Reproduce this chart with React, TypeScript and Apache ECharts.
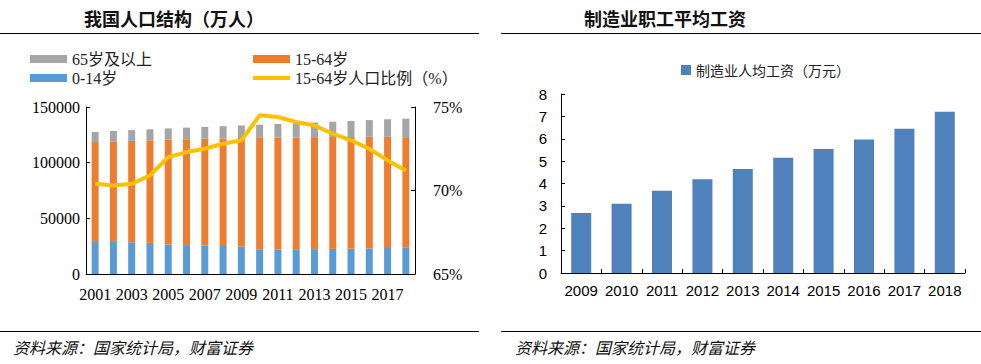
import React, { useEffect, useRef } from "react";
import * as echarts from "echarts";

const popYears = ["2001", "2002", "2003", "2004", "2005", "2006", "2007", "2008", "2009", "2010", "2011", "2012", "2013", "2014", "2015", "2016", "2017", "2018"];
const age0to14 = [28716, 28774, 28559, 27947, 26504, 25961, 25660, 25166, 24659, 22259, 22164, 22287, 22329, 22558, 22715, 23008, 23348, 23523];
const age15to64 = [89849, 90302, 90976, 92184, 94197, 95068, 95833, 96680, 97484, 99938, 100283, 100403, 100582, 100469, 100361, 100260, 99829, 99357];
const age65plus = [9062, 9377, 9692, 9857, 10055, 10419, 10636, 10956, 11307, 11894, 12288, 12714, 13161, 13755, 14386, 15003, 15831, 16658];
const workingRatio = [70.4, 70.3, 70.4, 70.9, 72.0, 72.3, 72.5, 72.8, 73.0, 74.5, 74.4, 74.1, 73.9, 73.4, 73.0, 72.5, 71.8, 71.2];

const wageYears = ["2009", "2010", "2011", "2012", "2013", "2014", "2015", "2016", "2017", "2018"];
const wageValues = [2.68, 3.1, 3.68, 4.19, 4.65, 5.15, 5.54, 5.97, 6.45, 7.21];

const popTicksLeft = { min: 0, max: 150000, interval: 50000 };
const popTicksRight = { min: 65, max: 75, interval: 5 };
const wageTicks = { min: 0, max: 8, interval: 1 };

const leftTitle = "我国人口结构（万人）";
const rightTitle = "制造业职工平均工资";
const sourceText = "资料来源：国家统计局，财富证券";

const SERIF = "'Liberation Serif', 'Noto Sans CJK SC', serif";
const SANS = "'Liberation Sans', 'Noto Sans CJK SC', sans-serif";
const CJK = "'Noto Sans CJK SC', sans-serif";

export default function App() {
  const ref = useRef<HTMLDivElement>(null);
  useEffect(() => {
    if (!ref.current) return;
    const chart = echarts.init(ref.current, null, { renderer: "svg" });
    const axisLine = { show: true, lineStyle: { color: "#000", width: 1 } };
    const tick = { show: true, inside: true, length: 4, lineStyle: { color: "#000" } };
    chart.setOption({
      animation: false,
      backgroundColor: "#fff",
      legend: [
        {
          left: 25, top: 46, orient: "vertical", itemWidth: 37, itemHeight: 8, itemGap: 3,
          textStyle: { fontFamily: SERIF, fontSize: 16, color: "#222", lineHeight: 16 },
          data: [{ name: "65岁及以上", icon: "rect" }, { name: "0-14岁", icon: "rect" }],
        },
        {
          left: 248, top: 46, orient: "vertical", itemWidth: 37, itemHeight: 8, itemGap: 3,
          textStyle: { fontFamily: SERIF, fontSize: 16, color: "#222", lineHeight: 16 },
          data: [
            { name: "15-64岁", icon: "rect" },
            { name: "15-64岁人口比例（%）", icon: "path://M0 0H37V4H0Z", itemStyle: { color: "#FFC000" } },
          ],
        },
        {
          left: 676, top: 58, itemWidth: 10, itemHeight: 10,
          textStyle: { fontFamily: CJK, fontSize: 14, color: "#222" },
          data: [{ name: "制造业人均工资（万元）", icon: "rect" }],
        },
      ],
      grid: [
        { left: 86, top: 107, width: 329, height: 167 },
        { left: 561, top: 94, width: 404, height: 179 },
      ],
      xAxis: [
        {
          type: "category", gridIndex: 0, data: popYears, axisLine,
          axisTick: { show: false },
          axisLabel: { interval: 1, margin: 12, fontFamily: SERIF, fontSize: 16, color: "#000" },
        },
        {
          type: "category", gridIndex: 1, data: wageYears, axisLine,
          axisTick: { ...tick, interval: 0 },
          axisLabel: { interval: 0, margin: 10, fontFamily: SANS, fontSize: 15, color: "#000" },
        },
      ],
      yAxis: [
        {
          type: "value", gridIndex: 0, ...popTicksLeft, axisLine, axisTick: tick,
          splitLine: { show: false },
          axisLabel: { margin: 6, fontFamily: SERIF, fontSize: 16, color: "#000", formatter: (v: number) => String(v) },
        },
        {
          type: "value", gridIndex: 0, position: "right", ...popTicksRight, axisLine, axisTick: tick,
          splitLine: { show: false },
          axisLabel: { margin: 18, fontFamily: SERIF, fontSize: 16, color: "#000", formatter: "{value}%" },
        },
        {
          type: "value", gridIndex: 1, ...wageTicks, axisLine, axisTick: tick,
          splitLine: { show: false },
          axisLabel: { margin: 14, fontFamily: SANS, fontSize: 15, color: "#000" },
        },
      ],
      series: [
        { name: "0-14岁", type: "bar", stack: "pop", xAxisIndex: 0, yAxisIndex: 0, barWidth: 7, data: age0to14, itemStyle: { color: "#5B9BD5" } },
        { name: "15-64岁", type: "bar", stack: "pop", xAxisIndex: 0, yAxisIndex: 0, barWidth: 7, data: age15to64, itemStyle: { color: "#ED7D31" } },
        { name: "65岁及以上", type: "bar", stack: "pop", xAxisIndex: 0, yAxisIndex: 0, barWidth: 7, data: age65plus, itemStyle: { color: "#A5A5A5" } },
        {
          name: "15-64岁人口比例（%）", type: "line", xAxisIndex: 0, yAxisIndex: 1, data: workingRatio,
          symbol: "none", lineStyle: { color: "#FFC000", width: 4 }, itemStyle: { color: "#FFC000" },
        },
        {
          name: "制造业人均工资（万元）", type: "bar", xAxisIndex: 1, yAxisIndex: 2, barWidth: 20,
          data: wageValues, itemStyle: { color: "#4F81BD" },
        },
      ],
      graphic: [
        { type: "text", left: 84, top: 9, style: { text: leftTitle, fontFamily: CJK, fontSize: 18, fontWeight: "bold", fill: "#111" } },
        { type: "text", left: 584, top: 9, style: { text: rightTitle, fontFamily: CJK, fontSize: 18, fontWeight: "bold", fill: "#111" } },
        { type: "line", shape: { x1: 0, y1: 33.5, x2: 479, y2: 33.5 }, style: { stroke: "#000", lineWidth: 1 } },
        { type: "line", shape: { x1: 501, y1: 33.5, x2: 981, y2: 33.5 }, style: { stroke: "#000", lineWidth: 1 } },
        { type: "line", shape: { x1: 0, y1: 331.5, x2: 479, y2: 331.5 }, style: { stroke: "#000", lineWidth: 1 } },
        { type: "line", shape: { x1: 501, y1: 331.5, x2: 981, y2: 331.5 }, style: { stroke: "#000", lineWidth: 1 } },
        { type: "text", left: 13, top: 339, style: { text: sourceText, fontFamily: CJK, fontSize: 16, fontStyle: "italic", fill: "#111" } },
        { type: "text", left: 515, top: 339, style: { text: sourceText, fontFamily: CJK, fontSize: 16, fontStyle: "italic", fill: "#111" } },
      ],
    });
    return () => chart.dispose();
  }, []);
  return <div ref={ref} style={{ position: "absolute", left: 0, top: 0, width: 981, height: 364 }} />;
}
